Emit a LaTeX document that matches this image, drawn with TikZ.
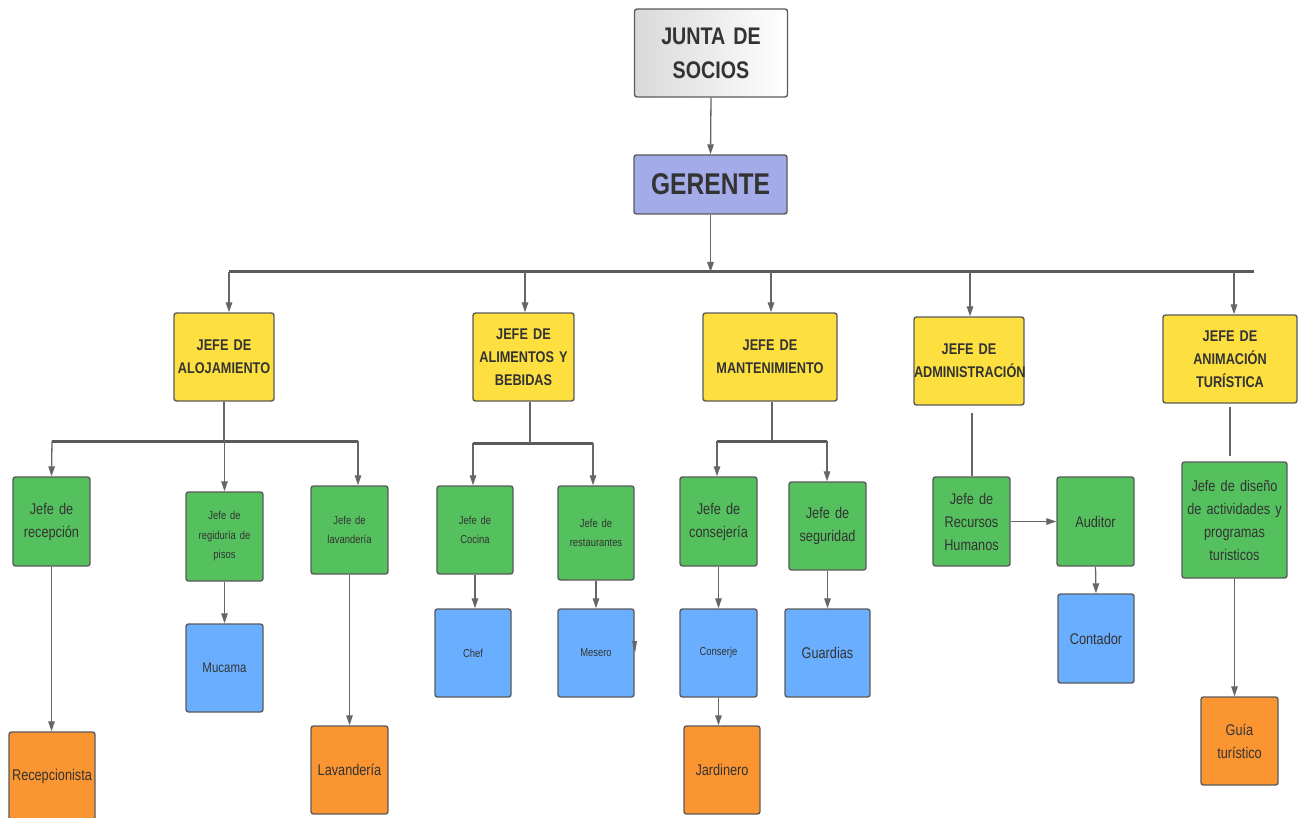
\documentclass[tikz,border=0pt]{standalone}
\usepackage{fontspec}
\setmainfont{Liberation Sans}[FakeStretch=0.82,WordSpace=0.75]
\usetikzlibrary{arrows.meta}
\definecolor{bordergray}{HTML}{5A5A5A}
\definecolor{linegray}{HTML}{666666}
\definecolor{textgray}{HTML}{333333}
\definecolor{yellowfill}{HTML}{FDE03F}
\definecolor{greenfill}{HTML}{55C15E}
\definecolor{bluefill}{HTML}{6AAFFF}
\definecolor{orangefill}{HTML}{FA9532}
\definecolor{lavfill}{HTML}{A3ABE8}
\definecolor{junta}{HTML}{D9D9D9}
\tikzset{
  box/.style={draw=bordergray, line width=1.4pt, rounded corners=2.5pt, inner sep=0pt, align=center, text=textgray},
  sz/.style n args={2}{minimum width=#1pt, text width=#1pt, minimum height=#2pt},
  ybox/.style={box, fill=yellowfill, font=\bfseries\fontsize{15.5}{23}\selectfont},
  gbox/.style={box, fill=greenfill},
  bbox/.style={box, fill=bluefill},
  obox/.style={box, fill=orangefill},
  bigtxt/.style={font=\fontsize{15.5}{23}\selectfont},
  smalltxt/.style={font=\fontsize{11.5}{19.5}\selectfont},
  arr/.style={draw=linegray, line width=1.3pt, -{Triangle[length=10pt,width=6.5pt]}, fill=linegray},
  ln/.style={draw=linegray, line width=1.6pt},
  bus/.style={draw=bordergray, line width=3pt},
}
\begin{document}
\begin{tikzpicture}[x=1pt,y=-1pt]
\useasboundingbox (0,0) rectangle (1306,818);
% top
\node[box, sz={153}{88}, left color=junta, right color=white, font=\bfseries\fontsize{24}{34}\selectfont] (junta) at (711,53) {JUNTA DE\\SOCIOS};
\node[box, sz={153}{59}, fill=lavfill, font=\bfseries\fontsize{30}{34}\selectfont] (ger) at (710.5,184.5) {GERENTE};
% yellow
\node[ybox, sz={100}{88}] (aloj) at (224,357) {JEFE DE\\ALOJAMIENTO};
\node[ybox, sz={101}{88}] (alim) at (523.5,357) {JEFE DE\\ALIMENTOS Y\\BEBIDAS};
\node[ybox, sz={134}{88}] (mant) at (770,357) {JEFE DE\\MANTENIMIENTO};
\node[ybox, sz={110}{88}] (admin) at (969,361) {JEFE DE\\ADMINISTRACIÓN};
\node[ybox, sz={134}{88}] (anim) at (1230,359) {JEFE DE\\ANIMACIÓN\\TURÍSTICA};
% green
\node[gbox, bigtxt, sz={77}{89}] (recep) at (51.5,521.5) {Jefe de\\recepción};
\node[gbox, smalltxt, sz={77}{89}] (regid) at (224.5,536.5) {Jefe de\\regiduría de\\pisos};
\node[gbox, smalltxt, sz={77}{88}] (jlav) at (349.5,530) {Jefe de\\lavandería};
\node[gbox, smalltxt, sz={76}{88}] (cocina) at (475,530) {Jefe de\\Cocina};
\node[gbox, smalltxt, sz={76}{94}] (rest) at (596,533) {Jefe de\\restaurantes};
\node[gbox, bigtxt, sz={77}{89}] (consej) at (718.5,521.5) {Jefe de\\consejería};
\node[gbox, bigtxt, sz={77}{88}] (segur) at (827.5,526) {Jefe de\\seguridad};
\node[gbox, bigtxt, sz={77}{89}] (rrhh) at (971.5,521.5) {Jefe de\\Recursos\\Humanos};
\node[gbox, bigtxt, sz={77}{89}] (audit) at (1095.5,521.5) {Auditor};
\node[gbox, bigtxt, sz={105}{116}] (diseno) at (1234.5,520) {Jefe de diseño\\de actividades y\\programas\\turisticos};
% blue
\node[bbox, font=\fontsize{14}{20}\selectfont, sz={77}{88}] (mucama) at (224.5,668) {Mucama};
\node[bbox, smalltxt, sz={76}{88}] (chef) at (473,653) {Chef};
\node[bbox, smalltxt, sz={76}{88}] (mesero) at (596,653) {Mesero};
\node[bbox, smalltxt, sz={77}{88}] (conserje) at (718.5,653) {Conserje};
\node[bbox, bigtxt, sz={85}{88}] (guardias) at (827.5,653) {Guardias};
\node[bbox, bigtxt, sz={76}{89}] (contador) at (1096,638.5) {Contador};
% orange
\node[obox, bigtxt, sz={86}{88}] (recepc) at (52,776) {Recepcionista};
\node[obox, bigtxt, sz={77}{88}] (olav) at (349.5,770) {Lavandería};
\node[obox, bigtxt, sz={76}{88}] (jardin) at (722,770) {Jardinero};
\node[obox, bigtxt, sz={77}{88}] (guia) at (1239.5,741) {Guía\\turístico};
% main connectors
\draw[arr] (junta.south) -- (ger.north);
\coordinate (busL) at (229,272);
\coordinate (busR) at (1254,272);
\draw[bus] (busL) -- (busR);
\draw[arr] (ger.south) -- (ger.south |- busL);
\coordinate (dA) at (229,272);
\coordinate (dB) at (525,272);
\coordinate (dC) at (771,272);
\coordinate (dD) at (970,272);
\coordinate (dE) at (1234,272);
\draw[arr] (dA) -- (dA |- aloj.north);
\draw[arr] (dB) -- (dB |- alim.north);
\draw[arr] (dC) -- (dC |- mant.north);
\draw[arr] (dD) -- (dD |- admin.north);
\draw[arr] (dE) -- (dE |- anim.north);
% alojamiento subtree
\coordinate (sbAL) at (52,441);
\coordinate (sbAR) at (358,441);
\draw[bus] (sbAL) -- (sbAR);
\draw[ln] (aloj.south) -- (aloj.south |- sbAL);
\draw[arr] (sbAL) -- (recep.north);
\draw[arr] (regid.north |- sbAL) -- (regid.north);
\draw[arr] (sbAR) -- (sbAR |- jlav.north);
\draw[arr] (recep.south) -- (recep.south |- recepc.north);
\draw[arr] (regid.south) -- (mucama.north);
\draw[arr] (jlav.south) -- (olav.north);
% alimentos subtree
\coordinate (sbB) at (530,443);
\coordinate (sbBL) at (473,443);
\coordinate (sbBR) at (593,443);
\draw[bus] (sbBL) -- (sbBR);
\draw[ln] (sbB |- alim.south) -- (sbB);
\draw[arr] (sbBL) -- (sbBL |- cocina.north);
\draw[arr] (sbBR) -- (sbBR |- rest.north);
\draw[arr] (cocina.south) -- (cocina.south |- chef.north);
\draw[arr] (rest.south) -- (mesero.north);
\fill[linegray] (632,641) -- (637,641) -- (635,653) -- cycle;
% mantenimiento subtree
\coordinate (sbC) at (772,441);
\coordinate (sbCL) at (717,441);
\coordinate (sbCR) at (827,441);
\draw[bus] (sbCL) -- (sbCR);
\draw[ln] (sbC |- mant.south) -- (sbC);
\draw[arr] (sbCL) -- (sbCL |- consej.north);
\draw[arr] (sbCR) -- (sbCR |- segur.north);
\draw[arr] (consej.south) -- (conserje.north);
\draw[arr] (segur.south) -- (guardias.north);
\draw[arr] (conserje.south) -- (conserje.south |- jardin.north);
% administracion subtree
\coordinate (adm1) at (972,413);
\draw[ln] (adm1) -- (adm1 |- rrhh.north);
\draw[arr] (rrhh.east) -- (audit.west);
\draw[arr] (audit.south) -- (contador.north);
% animacion subtree
\coordinate (an1) at (1230,407);
\coordinate (an2) at (1230,456);
\draw[ln] (an1) -- (an2);
\draw[arr] (diseno.south) -- (diseno.south |- guia.north);
\end{tikzpicture}
\end{document}
